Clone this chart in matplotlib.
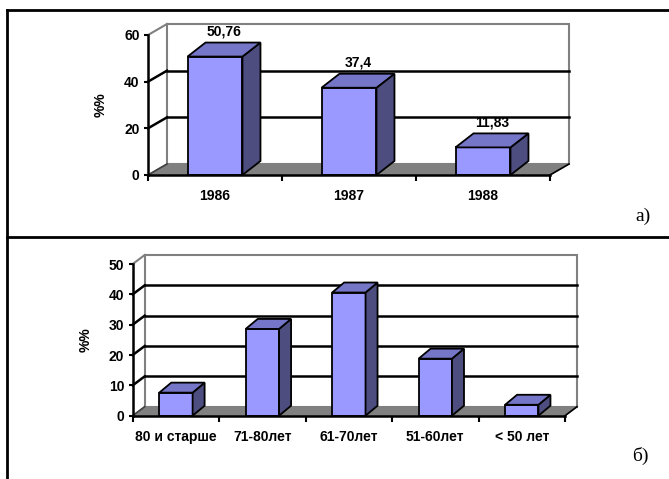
import matplotlib.pyplot as plt
from matplotlib.patches import Polygon, Rectangle
import numpy as np

plt.rcParams['font.family'] = ['Liberation Sans', 'DejaVu Sans']

# panel a) - by year
years = ['1986', '1987', '1988']
year_share = [50.76, 37.4, 11.83]

# panel b) - by age group
ages = ['80 и старше', '71-80лет', '61-70лет', '51-60лет', '< 50 лет']
age_share = [7.6, 28.6, 40.6, 18.8, 3.6]

W, H = 669, 479
FRONT = '#9999FF'
SIDE = '#4D4D80'
TOP = '#7676C8'
GREY = '#808080'
FS = 10

fig = plt.figure(figsize=(W / 100, H / 100), dpi=100)

# frame around the two panels, in pixel coords
frame = fig.add_axes([0, 0, 1, 1])
frame.set_xlim(0, W)
frame.set_ylim(H, 0)
frame.axis('off')
frame.plot([7, 7], [10, H], color='black', lw=2)
frame.plot([7, W], [10, 10], color='black', lw=2)
frame.plot([7, W], [237, 237], color='black', lw=2)
frame.text(643, 216, 'а)', family='Liberation Serif', fontsize=14,
           ha='center', va='center')
frame.text(640, 456, 'б)', family='Liberation Serif', fontsize=14,
           ha='center', va='center')


def shift(ax, x, y, dx, dy):
    px, py = ax.transData.transform((x, y))
    return ax.transData.inverted().transform((px + dx, py + dy))


def draw_panel(ax, cats, vals, ymax, step, wall, depth, bw, ylab_x,
               pad_x, values=False):
    n = len(cats)
    ax.set_xlim(0, n)
    ax.set_ylim(0, ymax)
    ax.patch.set_alpha(0)
    for s in ['top', 'right']:
        ax.spines[s].set_visible(False)
    for s in ['left', 'bottom']:
        ax.spines[s].set_linewidth(1.8)
        ax.spines[s].set_zorder(6)

    dx, dy = wall
    # back wall
    corners = [shift(ax, 0, 0, dx, dy), shift(ax, n, 0, dx, dy),
               shift(ax, n, ymax, dx, dy), shift(ax, 0, ymax, dx, dy)]
    ax.add_patch(Polygon(corners, closed=True, facecolor='white',
                         edgecolor=GREY, lw=1.5, zorder=1, clip_on=False))
    # left wall top edge
    p = shift(ax, 0, ymax, dx, dy)
    ax.plot([0, p[0]], [ymax, p[1]], color=GREY, lw=1.5, zorder=1,
            clip_on=False)
    # gridlines on back wall + left wall
    for v in np.arange(step, ymax, step):
        a = shift(ax, 0, v, dx, dy)
        b = shift(ax, n, v, dx, dy)
        ax.plot([a[0], b[0]], [a[1], b[1]], color='black', lw=1.8,
                zorder=2, clip_on=False)
        ax.plot([0, a[0]], [v, a[1]], color='black', lw=1.8, zorder=2,
                clip_on=False)
    # floor
    floor = [(0, 0), (n, 0), shift(ax, n, 0, dx, dy), shift(ax, 0, 0, dx, dy)]
    ax.add_patch(Polygon(floor, closed=True, facecolor=GREY,
                         edgecolor=GREY, lw=1, zorder=2, clip_on=False))
    fr = shift(ax, n, 0, dx, dy)
    ax.plot([n, fr[0]], [0, fr[1]], color='black', lw=1.2, zorder=2,
            clip_on=False)
    fl = shift(ax, 0, 0, dx, dy)
    ax.plot([0, fl[0]], [0, fl[1]], color='#404040', lw=1.2, zorder=2,
            clip_on=False)

    # bars
    ddx, ddy = depth
    for i, v in enumerate(vals):
        x0 = i + 0.5 - bw / 2
        x1 = i + 0.5 + bw / 2
        ax.add_patch(Rectangle((x0, 0), bw, v, facecolor=FRONT,
                               edgecolor='black', lw=1.3, zorder=4,
                               clip_on=False))
        side = [(x1, 0), (x1, v), shift(ax, x1, v, ddx, ddy),
                shift(ax, x1, 0, ddx, ddy)]
        ax.add_patch(Polygon(side, closed=True, facecolor=SIDE,
                             edgecolor='black', lw=1.3, zorder=4,
                             clip_on=False))
        top = [(x0, v), (x1, v), shift(ax, x1, v, ddx, ddy),
               shift(ax, x0, v, ddx, ddy)]
        ax.add_patch(Polygon(top, closed=True, facecolor=TOP,
                             edgecolor='black', lw=1.3, zorder=4,
                             clip_on=False))
        if values:
            lx, ly = shift(ax, i + 0.5, v, 9, 25)
            ax.text(lx, ly, f'{v:g}'.replace('.', ','), ha='center',
                    va='center', fontsize=FS, fontweight='bold', zorder=7)

    ax.set_yticks(np.arange(0, ymax + step, step))
    ax.tick_params(axis='y', direction='out', length=3, width=1.5,
                   labelsize=FS, pad=3)
    for t in ax.get_yticklabels():
        t.set_fontweight('bold')
    ax.set_xticks(np.arange(0, n + 1))
    ax.set_xticklabels([])
    ax.set_xticks(np.arange(n) + 0.5, minor=True)
    ax.set_xticklabels(cats, minor=True, fontsize=FS, fontweight='bold')
    ax.tick_params(axis='x', which='major', direction='out', length=4,
                   width=1.5)
    ax.tick_params(axis='x', which='minor', length=0, pad=pad_x)
    ax.text(ylab_x, 0.5, '%%', transform=ax.transAxes, rotation=90,
            ha='center', va='center', fontsize=FS, fontweight='bold')


ax1 = fig.add_axes([148 / W, (H - 175) / H, 402 / W, 140 / H])
draw_panel(ax1, years, year_share, 60, 20, (19, 11), (18, 14), 0.41,
           -0.119, 10, values=True)

ax2 = fig.add_axes([132.7 / W, (H - 415.7) / H, 432.3 / W, 151.7 / H])
draw_panel(ax2, ages, age_share, 50, 10, (12, 9), (12, 10), 0.386,
           -0.108, 10.5)

fig.savefig('out.png', dpi=100)
